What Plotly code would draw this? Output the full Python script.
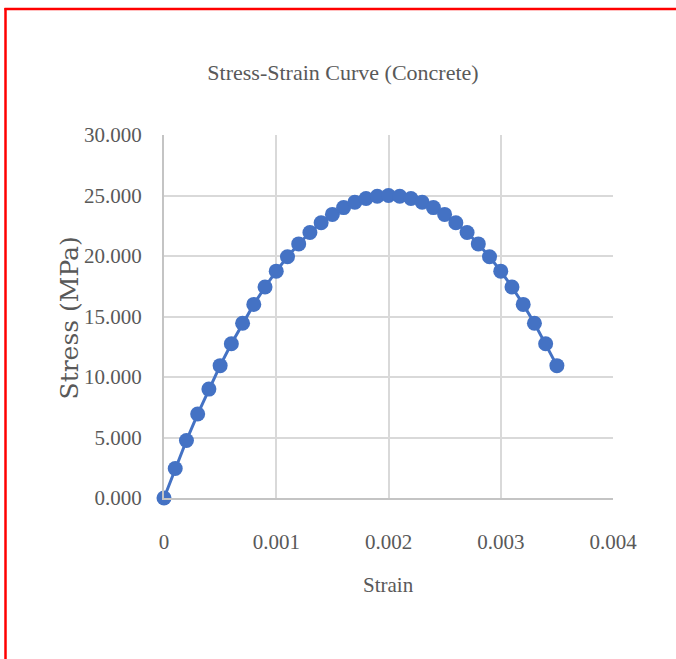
import plotly.graph_objects as go

strain = [0.0000, 0.0001, 0.0002, 0.0003, 0.0004, 0.0005, 0.0006, 0.0007, 0.0008, 0.0009,
          0.0010, 0.0011, 0.0012, 0.0013, 0.0014, 0.0015, 0.0016, 0.0017, 0.0018, 0.0019,
          0.0020, 0.0021, 0.0022, 0.0023, 0.0024, 0.0025, 0.0026, 0.0027, 0.0028, 0.0029,
          0.0030, 0.0031, 0.0032, 0.0033, 0.0034, 0.0035]
stress = [0.000, 2.438, 4.750, 6.938, 9.000, 10.938, 12.750, 14.438, 16.000, 17.438,
          18.750, 19.938, 21.000, 21.938, 22.750, 23.438, 24.000, 24.438, 24.750, 24.938,
          25.000, 24.938, 24.750, 24.438, 24.000, 23.438, 22.750, 21.938, 21.000, 19.938,
          18.750, 17.438, 16.000, 14.438, 12.750, 10.938]

x_ticks = [0, 0.001, 0.002, 0.003, 0.004]
x_tick_labels = ["0", "0.001", "0.002", "0.003", "0.004"]
y_ticks = [0, 5, 10, 15, 20, 25, 30]
y_tick_labels = ["0.000", "5.000", "10.000", "15.000", "20.000", "25.000", "30.000"]

title_text = "Stress-Strain Curve (Concrete)"
x_title = "Strain"
y_title = "Stress (MPa)"

W, H = 676, 659
L, R, T, B = 164, 63, 135, 161
PW, PH = W - L - R, H - T - B

def px_x(p):
    return (p - L) / PW

def px_y(p):
    return (H - B - p) / PH

grey = "#595959"
serif = "Liberation Serif, Times New Roman, serif"

fig = go.Figure()
fig.add_trace(go.Scatter(
    x=strain, y=stress, mode="lines+markers",
    line=dict(color="#4472C4", width=3),
    marker=dict(color="#4472C4", size=15),
    showlegend=False, hoverinfo="skip", cliponaxis=False,
))

fig.update_layout(
    width=W, height=H,
    margin=dict(l=L, r=R, t=T, b=B, pad=0),
    paper_bgcolor="white", plot_bgcolor="white",
    title=dict(text=title_text, x=343 / W, xref="container", xanchor="center",
               y=1 - 72 / H, yref="container", yanchor="middle",
               font=dict(family=serif, size=22, color=grey)),
    xaxis=dict(range=[0, 0.004], tickvals=x_ticks, ticktext=x_tick_labels,
               showgrid=True, gridcolor="#d9d9d9", gridwidth=2,
               showline=True, linecolor="#c4c4c4", linewidth=2,
               zeroline=False, ticks="", ticklabelstandoff=24,
               tickfont=dict(family=serif, size=21, color=grey)),
    yaxis=dict(range=[0, 30], tickvals=y_ticks, ticktext=y_tick_labels,
               showgrid=True, gridcolor="#d9d9d9", gridwidth=2,
               showline=True, linecolor="#c4c4c4", linewidth=2,
               zeroline=False, ticks="", ticklabelstandoff=16,
               tickfont=dict(family=serif, size=21, color=grey)),
    annotations=[
        dict(text=x_title, xref="paper", yref="paper", x=0.5, y=px_y(585),
             xanchor="center", yanchor="middle", showarrow=False,
             font=dict(family=serif, size=21, color=grey)),
        dict(text=y_title, xref="paper", yref="paper", x=px_x(68.5), y=px_y(318),
             xanchor="center", yanchor="middle", showarrow=False, textangle=-90,
             font=dict(family="DejaVu Serif, serif", size=25, color=grey)),
    ],
    shapes=[
        dict(type="line", xref="paper", yref="paper", x0=px_x(4.5), x1=px_x(W + 5),
             y0=px_y(9), y1=px_y(9), line=dict(color="#ff0000", width=2.5)),
        dict(type="line", xref="paper", yref="paper", x0=px_x(5.5), x1=px_x(5.5),
             y0=px_y(8), y1=px_y(H + 5), line=dict(color="#ff0000", width=2.5)),
    ],
)

fig.write_html("out.html")
